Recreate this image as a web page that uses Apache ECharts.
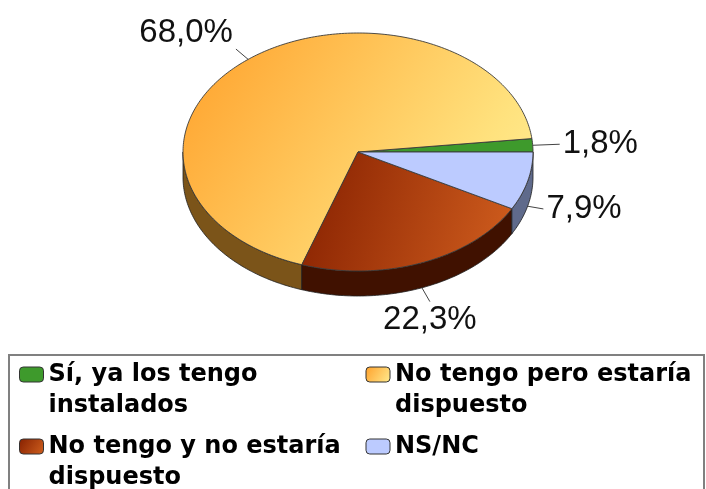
<!DOCTYPE html>
<html><head><meta charset="utf-8">
<script src="https://cdn.jsdelivr.net/npm/echarts@6/dist/echarts.min.js"></script>
<style>html,body{margin:0;padding:0;background:#fff}#c{width:706px;height:489px}</style>
</head><body><div id="c"></div>
<script>
// ---- data ----
const categories = ['Sí, ya los tengo instalados', 'No tengo pero estaría dispuesto', 'No tengo y no estaría dispuesto', 'NS/NC'];
const shares = [1.8, 68.0, 22.3, 7.9];

// ---- style / layout ----
const CX = 358, CY = 152, RX = 175, RY = 119, DEPTH = 25;
const LEADER_LEN = [27, 16, 16, 16];
const topFill = [
  '#3e9a2c',
  {type: 'linear', x: 0, y: 0, x2: 1, y2: 1, colorStops: [{offset: 0, color: '#ffa02a'}, {offset: 0.75, color: '#ffe27e'}, {offset: 1, color: '#fff09a'}]},
  {type: 'linear', x: 0, y: 0, x2: 1, y2: 0.5, colorStops: [{offset: 0, color: '#862000'}, {offset: 1, color: '#cc5a1c'}]},
  '#bccbff'
];
const sideFill = ['#235a18', '#7b5419', '#401100', '#5f6a8b'];
const legendFill = [
  '#3e9a2c',
  {type: 'linear', x: 0, y: 0, x2: 1, y2: 1, colorStops: [{offset: 0, color: '#ffa02a'}, {offset: 1, color: '#ffec90'}]},
  {type: 'linear', x: 0, y: 0, x2: 1, y2: 1, colorStops: [{offset: 0, color: '#862000'}, {offset: 1, color: '#d0601e'}]},
  '#bccbff'
];
const LEGEND_FONT = 'bold 24px "DejaVu Sans"';

function pt(a, dy) {
  const r = a * Math.PI / 180;
  return [CX + RX * Math.cos(r), CY - RY * Math.sin(r) + (dy || 0)];
}
function arc(a0, a1, dy) {
  const n = Math.max(2, Math.ceil(Math.abs(a1 - a0)));
  const out = [];
  for (let i = 0; i <= n; i++) out.push(pt(a0 + (a1 - a0) * i / n, dy));
  return out;
}
function fmt(v) { return v.toFixed(1).replace('.', ',') + '%'; }

const mctx = document.createElement('canvas').getContext('2d');
mctx.font = LEGEND_FONT;
function wrap(t, maxW) {
  const words = t.split(' ');
  const lines = [];
  let cur = '';
  words.forEach(w => {
    const test = cur ? cur + ' ' + w : w;
    if (cur && mctx.measureText(test).width > maxW) { lines.push(cur); cur = w; }
    else cur = test;
  });
  lines.push(cur);
  return lines;
}

function makeRender(k) {
  return function (params, api) {
    const total = shares.reduce((s, v) => s + v, 0);
    let before = 0;
    for (let i = 0; i < k; i++) before += shares[i];
    const v = api.value(0);
    const a0 = before / total * 360, a1 = (before + v) / total * 360;
    const children = [];
    const lo = Math.max(a0, 180), hi = Math.min(a1, 360);
    if (hi > lo) {
      const pts = arc(lo, hi, 0).concat(arc(hi, lo, DEPTH));
      children.push({type: 'polygon', z2: 1, shape: {points: pts},
        style: {fill: sideFill[k], stroke: '#1e1e1e', lineWidth: 0.8}});
    }
    children.push({type: 'polygon', z2: 10, shape: {points: [[CX, CY]].concat(arc(a0, a1, 0))},
      style: {fill: topFill[k], stroke: '#3a3a3a', lineWidth: 0.9}});
    const mid = (a0 + a1) / 2, r = mid * Math.PI / 180;
    const c = Math.cos(r), s = Math.sin(r);
    const p = pt(mid, s < 0 ? DEPTH : 0);
    let dx = RX * c, dy = -RY * s; const L = Math.hypot(dx, dy); dx /= L; dy /= L;
    const e = [p[0] + dx * LEADER_LEN[k], p[1] + dy * LEADER_LEN[k]];
    children.push({type: 'line', z2: 30, shape: {x1: p[0], y1: p[1], x2: e[0], y2: e[1]},
      style: {stroke: '#444', lineWidth: 1}});
    const align = c > 0.4 ? 'left' : (c < -0.4 ? 'right' : 'center');
    const valign = s > 0.3 ? 'bottom' : (s < -0.3 ? 'top' : 'middle');
    const tx = e[0] + (align === 'left' ? 3 : align === 'right' ? -3 : 0);
    const ty = e[1] + (valign === 'top' ? 2 : 0);
    children.push({type: 'text', z2: 30, x: tx, y: ty,
      style: {text: fmt(v), fill: '#111', font: 'normal 33px "Liberation Sans", Arial, sans-serif',
        align: align, verticalAlign: valign}});
    return {type: 'group', children: children};
  };
}

const legendCommon = {orient: 'horizontal', padding: 0, itemWidth: 24, itemHeight: 15, itemGap: 10,
  itemStyle: {borderColor: '#333', borderWidth: 1}, selectedMode: false,
  textStyle: {fontFamily: 'DejaVu Sans', fontWeight: 'bold', fontSize: 24, lineHeight: 31, color: '#000', width: 307},
  formatter: name => {
    const ls = wrap(name, 300);
    // leading blank line keeps the first text line level with the icon
    return (ls.length > 1 ? '\n' : '') + ls.join('\n');
  }};

const chart = echarts.init(document.getElementById('c'));
chart.setOption({
  animation: false,
  backgroundColor: '#fff',
  legend: [
    Object.assign({}, legendCommon, {left: 19, top: 328, data: [categories[0], categories[1]]}),
    Object.assign({}, legendCommon, {left: 19, top: 400, data: [categories[2], categories[3]]})
  ],
  graphic: [{type: 'rect', shape: {x: 9, y: 355, width: 695, height: 220},
    style: {fill: 'none', stroke: '#808080', lineWidth: 2}}],
  series: categories.map((name, k) => ({
    type: 'custom', name: name, coordinateSystem: 'none',
    itemStyle: {color: legendFill[k]},
    renderItem: makeRender(k),
    data: [[shares[k]]]
  }))
});
</script></body></html>
